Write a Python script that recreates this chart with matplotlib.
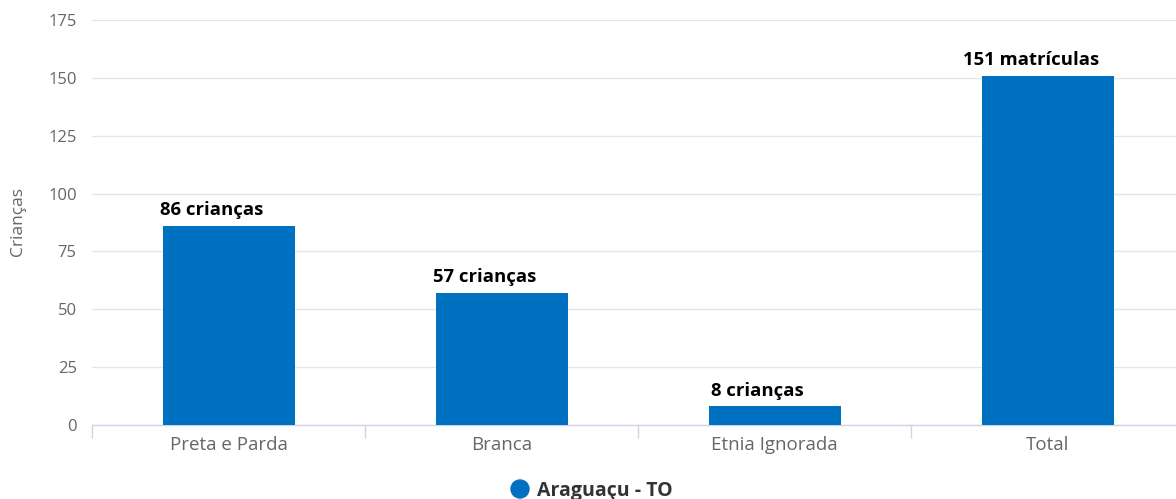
import matplotlib
matplotlib.use("Agg")
import matplotlib.pyplot as plt

categories = ["Preta e Parda", "Branca", "Etnia Ignorada", "Total"]
values = [86, 57, 8, 151]
labels = ["86 crianças", "57 crianças", "8 crianças", "151 matrículas"]
yticks = [0, 25, 50, 75, 100, 125, 150, 175]
series_name = "Araguaçu - TO"

plt.rcParams['font.family'] = ['Open Sans', 'DejaVu Sans']

fig = plt.figure(figsize=(11.76, 4.99), dpi=100)
ax = fig.add_axes([92/1176, 74/499, 1092/1176, 405/499])

color = "#0070c0"
x = list(range(len(categories)))
ax.bar(x, values, width=132/273, color=color, zorder=3)

ax.set_xlim(-0.5, len(categories) - 0.5)
ax.set_ylim(0, 175)
ax.set_yticks(yticks)
ax.set_yticklabels([str(t) for t in yticks], color="#666666", fontsize=12)
ax.yaxis.grid(True, color="#e6e6e6", linewidth=1, zorder=0)
ax.tick_params(axis='y', length=0, pad=11)

ax.set_xticks(x)
ax.set_xticklabels(categories, color="#666666", fontsize=13.5)
ax.tick_params(axis='x', length=0, pad=8)
ax.set_xticks([i - 0.5 for i in range(len(categories) + 1)], minor=True)
ax.tick_params(axis='x', which='minor', length=9, color="#ccd6eb", width=1)

for s in ["top", "right", "left"]:
    ax.spines[s].set_visible(False)
ax.spines["bottom"].set_color("#ccd6eb")
ax.spines["bottom"].set_linewidth(1)

for xi, v, lab in zip(x, values, labels):
    ax.annotate(lab, (xi, v), xytext=(-12, 5), textcoords="offset points",
                ha="center", va="bottom", fontsize=13.3, fontweight="bold", color="#000000")

fig.text(18/1176, 1 - 222/499, "Crianças", rotation=90, ha="center", va="center",
         color="#666666", fontsize=12.5)

fig.patches.append(matplotlib.patches.Ellipse((520/1176, 1 - 489/499), 18/1176, 18/499,
                                              transform=fig.transFigure, color=color))
fig.text(537/1176, 1 - 491/499, series_name, ha="left", va="center",
         fontsize=14, fontweight="bold", color="#333333")

fig.savefig("out.png", dpi=100)
